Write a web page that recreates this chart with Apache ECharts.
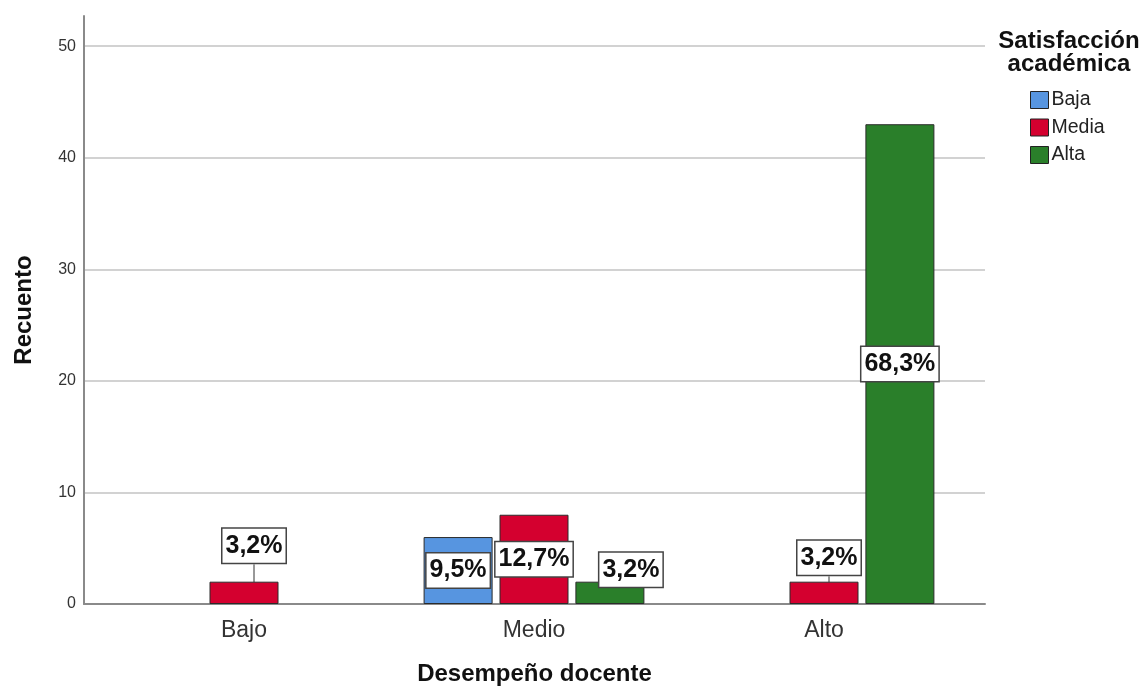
<!DOCTYPE html>
<html>
<head>
<meta charset="utf-8">
<script src="https://cdn.jsdelivr.net/npm/echarts@6/dist/echarts.min.js"></script>
<style>html,body{margin:0;padding:0;background:#fff}#c{width:1148px;height:686px}</style>
</head>
<body>
<div id="c"></div>
<script>
// ---- data ----
var categories = ['Bajo', 'Medio', 'Alto'];
var seriesNames = ['Baja', 'Media', 'Alta'];
var bajaValues = [0, 6, 0];
var mediaValues = [2, 8, 2];
var altaValues = [0, 2, 43];
var yTicks = [0, 10, 20, 30, 40, 50];

var colors = ['#5795e0', '#d4002f', '#2a7f2a'];
var allValues = [bajaValues, mediaValues, altaValues];
var total = 0;
allValues.forEach(function (a) { a.forEach(function (v) { total += v; }); });

// label offsets (styling only) keyed by "series|category"
var labelShift = {
  'Media|Bajo': [10, -47],
  'Alta|Medio': [21, -23],
  'Media|Alto': [5, -35]
};

var FONT = '"Liberation Sans", Arial, sans-serif';

function pct(v) {
  return (v / total * 100).toFixed(1).replace('.', ',') + '%';
}

var series = seriesNames.map(function (name, si) {
  return {
    name: name,
    type: 'bar',
    xAxisIndex: 1,
    yAxisIndex: 1,
    barWidth: 69,
    barGap: '10%',
    itemStyle: { color: colors[si], borderColor: '#2b2b2b', borderWidth: 1 },
    data: allValues[si].map(function (v, ci) {
      var key = name + '|' + categories[ci];
      return {
        value: v === 0 ? '-' : v,
        labelLine: { show: key === 'Media|Bajo' || key === 'Media|Alto' }
      };
    }),
    label: {
      show: true,
      position: 'inside',
      formatter: function (p) { return pct(p.value); },
      fontFamily: FONT,
      fontSize: 25,
      fontWeight: 'bold',
      lineHeight: 29,
      color: '#111',
      backgroundColor: '#fff',
      borderColor: '#444',
      borderWidth: 1.5,
      padding: [3, 3, 2, 3]
    },
    labelLine: { show: false, lineStyle: { color: '#333', width: 1 } },
    labelLayout: function (params) {
      var key = seriesNames[params.seriesIndex] + '|' + categories[params.dataIndex];
      var s = labelShift[key];
      return s ? { dx: s[0], dy: s[1] } : {};
    }
  };
});

var chart = echarts.init(document.getElementById('c'), null, { renderer: 'canvas' });
chart.setOption({
  animation: false,
  backgroundColor: '#fff',
  textStyle: { fontFamily: FONT },
  title: {
    text: 'Satisfacción\nacadémica',
    left: 1069,
    textAlign: 'center',
    top: 30,
    padding: 0,
    textStyle: { fontFamily: FONT, fontSize: 24, fontWeight: 'bold', color: '#111', lineHeight: 23 }
  },
  legend: {
    orient: 'vertical',
    left: 1030,
    top: 90,
    padding: 0,
    itemWidth: 18,
    itemHeight: 17,
    itemGap: 7.5,
    icon: 'rect',
    itemStyle: { borderColor: '#222', borderWidth: 1 },
    textStyle: { fontFamily: FONT, fontSize: 19.5, color: '#222', padding: [0, 0, 0, -2] },
    data: seriesNames
  },
  grid: [
    { left: 84, right: 163, top: 16, bottom: 82, containLabel: false, outerBoundsMode: 'none' },
    { left: 99, right: 179, top: 16, bottom: 82, containLabel: false, outerBoundsMode: 'none' }
  ],
  xAxis: [
    {
      type: 'category', gridIndex: 0, data: categories,
      axisLine: { lineStyle: { color: '#8a8a8a', width: 2 } },
      axisTick: { show: false }, axisLabel: { show: false },
      name: 'Desempeño docente', nameLocation: 'middle', nameGap: 58,
      nameTextStyle: { fontFamily: FONT, fontSize: 24, fontWeight: 'bold', color: '#111' }
    },
    {
      type: 'category', gridIndex: 1, data: categories,
      axisLine: { show: false }, axisTick: { show: false },
      axisLabel: { fontFamily: FONT, fontSize: 23, color: '#333', margin: 15 }
    }
  ],
  yAxis: [
    {
      type: 'value', gridIndex: 0, min: yTicks[0], max: 52.7, interval: 10,
      axisLine: { show: true, lineStyle: { color: '#8a8a8a', width: 2 } },
      axisTick: { show: false },
      axisLabel: { fontFamily: FONT, fontSize: 16, color: '#333', margin: 8, showMaxLabel: false },
      splitLine: { show: true, showMaxLine: false, lineStyle: { color: '#d2d2d2', width: 2 } },
      name: 'Recuento', nameLocation: 'middle', nameGap: 48,
      nameTextStyle: { fontFamily: FONT, fontSize: 24, fontWeight: 'bold', color: '#111' }
    },
    {
      type: 'value', gridIndex: 1, min: yTicks[0], max: 52.7, interval: 10, show: false,
      splitLine: { show: false }
    }
  ],
  series: series
});
</script>
</body>
</html>
